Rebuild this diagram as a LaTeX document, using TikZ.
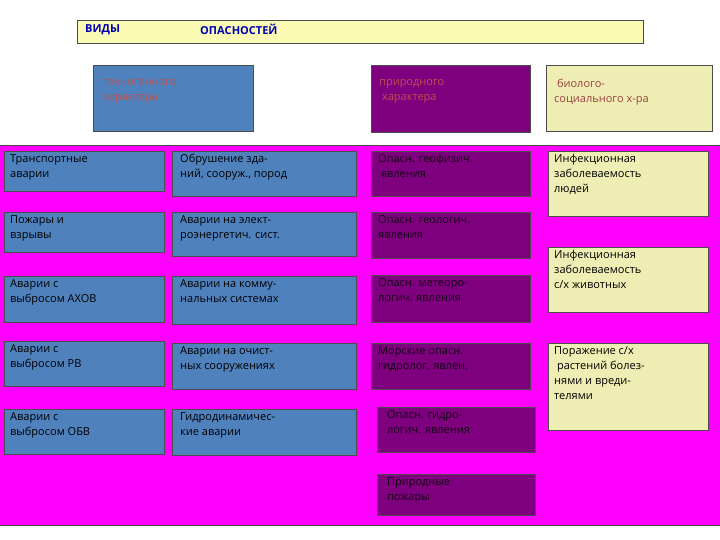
\documentclass[tikz,border=0pt]{standalone}
\usepackage{fontspec}
\setmainfont{Open Sans}
\begin{document}
\begin{tikzpicture}[x=1pt,y=-1pt,
 bx/.style={draw=black!70,line width=0.8pt,inner sep=0pt},
 tx/.style={anchor=north west,align=left,font=\fontsize{11}{15}\selectfont,inner sep=0pt},
 bl/.style={bx,fill=bluec},
 pu/.style={bx,fill=purpc},
 ye/.style={bx,fill=yelc}]
\definecolor{bluec}{HTML}{4F81BD}
\definecolor{purpc}{HTML}{7F007F}
\definecolor{yelc}{HTML}{EEEEB4}
\definecolor{magc}{HTML}{FF00FF}
\definecolor{redt}{HTML}{C0504D}
\definecolor{headc}{HTML}{FAFAB4}
\useasboundingbox (0,0) rectangle (720,540);
\fill[white] (0,0) rectangle (720,540);
% header
\draw[bx,fill=headc] (77,20) rectangle (643,43);
\node[tx,text=blue!70!black,font=\bfseries\fontsize{11}{13}\selectfont] (h1) at (85,24) {ВИДЫ};
\node[tx,text=blue!70!black,font=\bfseries\fontsize{11}{13}\selectfont] (h2) at (200,24) {ОПАСНОСТЕЙ};
% categories
\draw[bl] (93,65) rectangle (253,131);
\node[tx,text=redt] (c1) at (103,79) {техногенного\\характера};
\draw[pu] (371,65) rectangle (530,132);
\node[tx,text=redt] (c2) at (379,79) {природного\\\ характера};
\draw[ye] (546,65) rectangle (712,131);
\node[tx,text=redt!80!black] (c3) at (554,79) {\ биолого-\\социального х-ра};
% magenta field
\fill[magc] (0,145) rectangle (720,525);
\draw[black!70,line width=0.8pt] (0,145) -- (720,145);
\draw[black!70,line width=0.8pt] (0,525) -- (720,525);
% column 1
\foreach \ya/\yb/\t [count=\i] in {151/191/{Транспортные\\аварии},212/252/{Пожары и\\взрывы},276/322/{Аварии с\\выбросом АХОВ},341/386/{Аварии с\\выбросом РВ},409/454/{Аварии с\\выбросом ОБВ}}{
 \draw[bl] (4,\ya) rectangle (164,\yb);
 \node[tx] (a\i) at (10,\ya+3) {\t};}
% column 2
\foreach \ya/\yb/\t [count=\i] in {151/196/{Обрушение зда-\\ний, сооруж., пород},212/256/{Аварии на элект-\\роэнергетич. сист.},276/324/{Аварии на комму-\\нальных системах},343/389/{Аварии на очист-\\ных сооружениях},409/455/{Гидродинамичес-\\кие аварии}}{
 \draw[bl] (172,\ya) rectangle (356,\yb);
 \node[tx] (b\i) at (180,\ya+3) {\t};}
% column 3
\foreach \xa/\xb/\ya/\yb/\t [count=\i] in {371/530/151/196/{Опасн. геофизич.\\\ явления},371/530/212/258/{Опасн. геологич.\\явления},371/530/275/322/{Опасн. метеоро-\\логич. явления},371/530/343/389/{Морские опасн.\\гидролог. явлен.},377/535/407/452/{\ Опасн. гидро-\\\ логич. явления},377/535/474/515/{\ Природные\\\ пожары}}{
 \draw[pu] (\xa,\ya) rectangle (\xb,\yb);
 \node[tx,text=black!85!purpc] (p\i) at (\xa+7,\ya+3) {\t};}
% column 4
\foreach \ya/\yb/\t [count=\i] in {151/216/{Инфекционная\\заболеваемость\\людей},247/312/{Инфекционная\\заболеваемость\\с/х животных},343/430/{Поражение с/х\\\ растений болез-\\нями и вреди-\\телями}}{
 \draw[ye] (548,\ya) rectangle (708,\yb);
 \node[tx] (d\i) at (554,\ya+3) {\t};}
\end{tikzpicture}
\end{document}
